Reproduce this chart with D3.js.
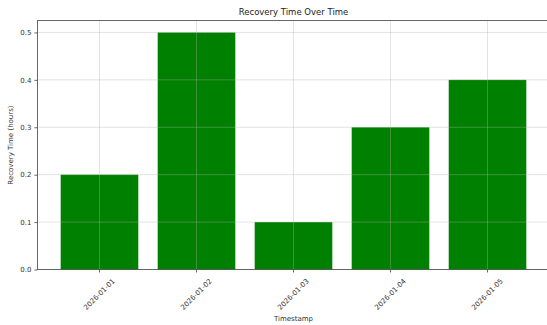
<!DOCTYPE html>
<html>
<head>
<meta charset="utf-8">
<script src="https://cdn.jsdelivr.net/npm/d3@7/dist/d3.min.js"></script>
<style>
  html, body { margin: 0; padding: 0; background: #fff; }
  svg { display: block; font-family: "DejaVu Sans", sans-serif; }
</style>
</head>
<body>
<svg id="chart" width="547" height="325"></svg>
<script>
// Recovery time per day
const timestamps = ["2026-01-01", "2026-01-02", "2026-01-03", "2026-01-04", "2026-01-05"];
const recoveryHours = [0.2, 0.5, 0.1, 0.3, 0.4];
const yTickValues = [0.0, 0.1, 0.2, 0.3, 0.4, 0.5];

const svg = d3.select("#chart");
const plot = { left: 37.4, right: 549.6, top: 20.6, bottom: 269.5 };

// Band layout: bars take 80% of each slot, with a 5% margin at both ends
const n = timestamps.length;
const x = d3.scaleLinear().domain([-0.64, n - 1 + 0.64]).range([plot.left, plot.right]);
const barWidth = 0.8;
const y = d3.scaleLinear().domain([0, 0.525]).range([plot.bottom, plot.top]);

// Bars
svg.append("g")
  .selectAll("rect")
  .data(recoveryHours)
  .join("rect")
  .attr("x", (d, i) => x(i - barWidth / 2))
  .attr("width", (d, i) => x(i + barWidth / 2) - x(i - barWidth / 2))
  .attr("y", d => y(d))
  .attr("height", d => y(0) - y(d))
  .attr("fill", "#008000");

// Grid drawn over the bars
const grid = svg.append("g").attr("stroke", "#b0b0b0").attr("stroke-opacity", 0.45).attr("stroke-width", 0.8);
grid.selectAll("line.v")
  .data(timestamps)
  .join("line")
  .attr("class", "v")
  .attr("x1", (d, i) => x(i)).attr("x2", (d, i) => x(i))
  .attr("y1", plot.top).attr("y2", plot.bottom);
grid.selectAll("line.h")
  .data(yTickValues)
  .join("line")
  .attr("class", "h")
  .attr("x1", plot.left).attr("x2", plot.right)
  .attr("y1", d => y(d)).attr("y2", d => y(d));

// Spines
const spine = svg.append("g").attr("stroke", "#444").attr("stroke-width", 0.8).attr("fill", "none");
spine.append("rect")
  .attr("x", plot.left).attr("y", plot.top)
  .attr("width", plot.right - plot.left).attr("height", plot.bottom - plot.top);

// Y axis
const yAxis = d3.axisLeft(y)
  .tickValues(yTickValues)
  .tickFormat(d3.format(".1f"))
  .tickSize(3)
  .tickPadding(3);
const gy = svg.append("g").attr("transform", `translate(${plot.left},0)`).call(yAxis);
gy.select(".domain").remove();
gy.selectAll(".tick line").attr("stroke", "#444").attr("stroke-width", 0.8);
gy.selectAll(".tick text").attr("fill", "#333").style("font-size", "7px").style("font-family", "DejaVu Sans");

// X axis ticks and rotated labels
const gx = svg.append("g").attr("transform", `translate(0,${plot.bottom})`);
gx.selectAll("line")
  .data(timestamps)
  .join("line")
  .attr("x1", (d, i) => x(i)).attr("x2", (d, i) => x(i))
  .attr("y1", 0).attr("y2", 3)
  .attr("stroke", "#444").attr("stroke-width", 0.8);
gx.selectAll("text")
  .data(timestamps)
  .join("text")
  .attr("transform", (d, i) => `translate(${x(i)},25) rotate(-45)`)
  .attr("text-anchor", "middle")
  .attr("dominant-baseline", "central")
  .attr("fill", "#333")
  .style("font-size", "7px")
  .text(d => d);

// Title and axis labels
svg.append("text")
  .attr("x", (plot.left + plot.right) / 2).attr("y", 15)
  .attr("text-anchor", "middle")
  .attr("fill", "#222")
  .style("font-size", "8.5px")
  .text("Recovery Time Over Time");

svg.append("text")
  .attr("x", (plot.left + plot.right) / 2).attr("y", 321)
  .attr("text-anchor", "middle")
  .attr("fill", "#333")
  .style("font-size", "7px")
  .text("Timestamp");

svg.append("text")
  .attr("transform", `translate(13,${(plot.top + plot.bottom) / 2}) rotate(-90)`)
  .attr("text-anchor", "middle")
  .attr("fill", "#333")
  .style("font-size", "7px")
  .text("Recovery Time (hours)");
</script>
</body>
</html>
